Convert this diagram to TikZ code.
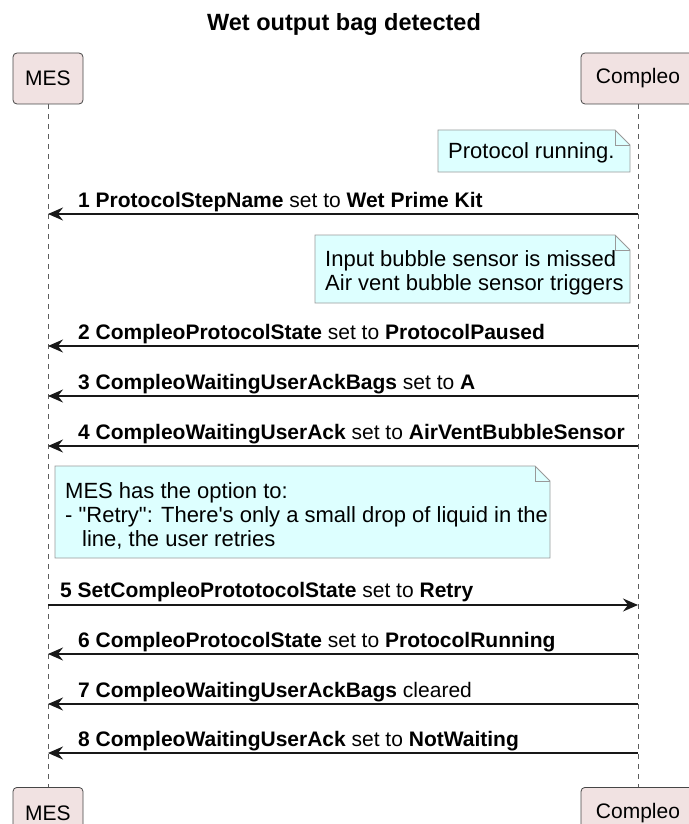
\documentclass[tikz,border=0pt]{standalone}
\usepackage{fontspec}
\setmainfont{Liberation Sans}
\usetikzlibrary{arrows.meta}

\definecolor{partfill}{RGB}{241,226,226}
\definecolor{notefill}{RGB}{221,255,255}
\definecolor{linecol}{RGB}{24,24,24}

% folded note: x1, y1, x2, y2
\newcommand{\foldnote}[4]{%
  \draw[notebox] (#1,#2) -- ({#3-15},#2) -- (#3,{#2+15}) -- (#3,#4) -- (#1,#4) -- cycle;
  \draw[notebox, fill=none] ({#3-15},#2) -- ({#3-15},{#2+15}) -- (#3,{#2+15});
}

\begin{document}
\begin{tikzpicture}[x=1pt, y=-1pt,
    actor/.style={draw=linecol!80, fill=partfill, rounded corners=4pt, line width=0.8pt,
      minimum height=51pt, inner sep=0pt, font=\fontsize{21}{24}\selectfont},
    notebox/.style={draw=gray!80, fill=notefill, line width=0.8pt},
    notetext/.style={anchor=base west, inner sep=0pt, font=\fontsize{22}{24}\selectfont},
    lbl/.style={anchor=base west, inner sep=0pt, font=\fontsize{21}{24}\selectfont},
    msg/.style={draw=linecol, line width=1.3pt, -{Stealth[length=15pt, width=13pt, inset=5pt]}},
    life/.style={draw=linecol!70, line width=0.6pt, dash pattern=on 5pt off 5pt}]
  \useasboundingbox (0,0) rectangle (688,824);

  \node[font=\bfseries\fontsize{23.5}{26}\selectfont, anchor=base, inner sep=0pt] (title) at (344,31) {Wet output bag detected};

  % participants
  \node[actor, minimum width=70pt] (mesTop) at (48,78.5) {MES};
  \node[actor, minimum width=114pt] (compTop) at (638,78.5) {Compleo};
  \node[actor, minimum width=70pt, anchor=north] (mesBot) at (48,787) {MES};
  \node[actor, minimum width=114pt, anchor=north] (compBot) at (638,787) {Compleo};
  \draw[life] (mesTop) -- (mesBot);
  \draw[life] (compTop) -- (compBot);

  % notes
  \foldnote{438}{130}{630}{172}
  \node[notetext] (run) at (448,158) {Protocol running.};
  \foldnote{315}{235}{630}{303}
  \node[notetext] (sensA) at (325,266) {Input bubble sensor is missed};
  \node[notetext] (sensB) at (325,290) {Air vent bubble sensor triggers};
  \foldnote{55}{466}{550}{558}
  \node[notetext] (optA) at (65,498) {MES has the option to:};
  \node[notetext] (optB) at (65,522) {- \textquotedbl Retry\textquotedbl: There\textquotesingle s only a small drop of liquid in the};
  \node[notetext] (optC) at (82,546) {line, the user retries};

  % messages
  \draw[msg] (compTop |- 0,214) -- (mesTop |- 0,214);
  \node[lbl] (m1) at (78,207) {\textbf{1 ProtocolStepName} set to \textbf{Wet Prime Kit}};
  \draw[msg] (compTop |- 0,346) -- (mesTop |- 0,346);
  \node[lbl] (m2) at (78,339) {\textbf{2 CompleoProtocolState} set to \textbf{ProtocolPaused}};
  \draw[msg] (compTop |- 0,396) -- (mesTop |- 0,396);
  \node[lbl] (m3) at (78,389) {\textbf{3 CompleoWaitingUserAckBags} set to \textbf{A}};
  \draw[msg] (compTop |- 0,446) -- (mesTop |- 0,446);
  \node[lbl] (m4) at (78,439) {\textbf{4 CompleoWaitingUserAck} set to \textbf{AirVentBubbleSensor}};
  \draw[msg] (mesTop |- 0,605) -- (compTop |- 0,605);
  \node[lbl] (m5) at (60,597) {\textbf{5 SetCompleoPrototocolState} set to \textbf{Retry}};
  \draw[msg] (compTop |- 0,654) -- (mesTop |- 0,654);
  \node[lbl] (m6) at (78,647) {\textbf{6 CompleoProtocolState} set to \textbf{ProtocolRunning}};
  \draw[msg] (compTop |- 0,704) -- (mesTop |- 0,704);
  \node[lbl] (m7) at (78,697) {\textbf{7 CompleoWaitingUserAckBags} cleared};
  \draw[msg] (compTop |- 0,753) -- (mesTop |- 0,753);
  \node[lbl] (m8) at (78,746) {\textbf{8 CompleoWaitingUserAck} set to \textbf{NotWaiting}};
\end{tikzpicture}
\end{document}
